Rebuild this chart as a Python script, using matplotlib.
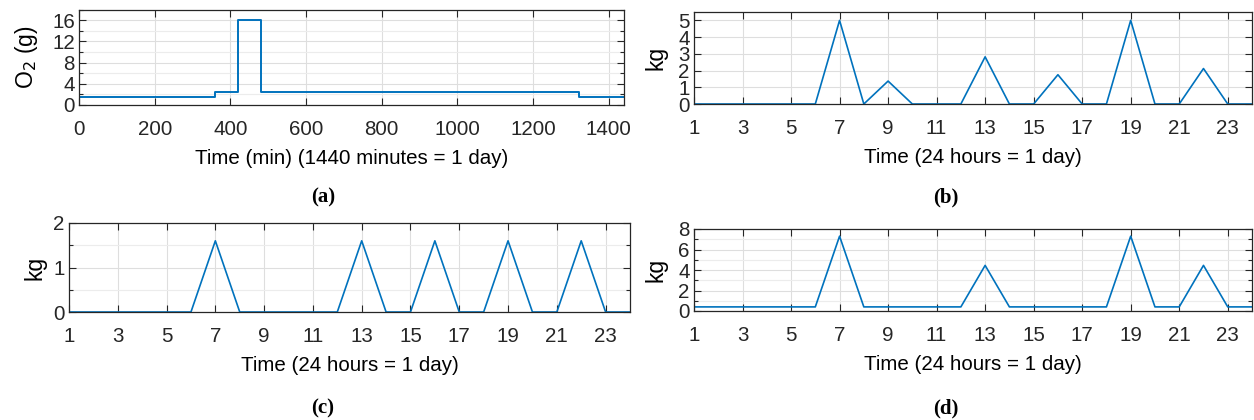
import matplotlib
matplotlib.use('Agg')
import matplotlib.pyplot as plt
from matplotlib.ticker import MultipleLocator
import numpy as np

plt.rcParams['font.family'] = ['Liberation Sans', 'DejaVu Sans']

# (a) oxygen, step profile over one day (minutes)
o2_time = [0, 360, 420, 480, 1320, 1440]
o2_value = [1.6, 2.45, 16, 2.45, 1.6, 1.6]

# hourly series for (b), (c), (d)
hours = list(range(1, 25))
kg_b = [0, 0, 0, 0, 0, 0, 5.0, 0, 1.37, 0, 0, 0, 2.82, 0, 0, 1.75,
        0, 0, 5.0, 0, 0, 2.12, 0, 0]
kg_c = [0, 0, 0, 0, 0, 0, 1.6, 0, 0, 0, 0, 0, 1.6, 0, 0, 1.6,
        0, 0, 1.6, 0, 0, 1.6, 0, 0]
kg_d = [0.4, 0.4, 0.4, 0.4, 0.4, 0.4, 7.3, 0.4, 0.4, 0.4, 0.4, 0.4, 4.45, 0.4, 0.4, 0.4,
        0.4, 0.4, 7.3, 0.4, 0.4, 4.45, 0.4, 0.4]

hour_ticks = list(range(1, 24, 2))

BLUE = '#0072BD'
W, H = 1254, 420
FS = 14.8
YFS = 16.5


def px_axes(fig, left, right, top, bottom):
    return fig.add_axes([left / W, (H - bottom) / H, (right - left) / W, (bottom - top) / H])


def style(ax):
    for s in ax.spines.values():
        s.set_color('#262626')
        s.set_linewidth(0.9)
    ax.tick_params(which='both', direction='in', top=True, right=True,
                   colors='#262626', labelsize=FS, width=0.8)
    ax.tick_params(which='major', length=5)
    ax.tick_params(axis='x', which='major', pad=11)
    ax.tick_params(axis='y', which='major', pad=3)
    ax.tick_params(which='minor', length=3)
    ax.grid(True, which='major', color='#dedede', linewidth=0.8)
    ax.grid(True, which='minor', axis='y', color='#ececec', linewidth=0.8)
    ax.set_axisbelow(True)


fig = plt.figure(figsize=(12.54, 4.2), dpi=100)

# (a)
ax = px_axes(fig, 79, 624, 9.5, 105)
ax.step(o2_time, o2_value, where='post', color=BLUE, lw=1.4)
ax.set_xlim(0, 1440)
ax.set_ylim(0, 18)
ax.set_xticks(np.arange(0, 1401, 200))
ax.set_yticks([0, 4, 8, 12, 16])
ax.yaxis.set_minor_locator(MultipleLocator(2))
style(ax)
ax.set_xlabel('Time (min) (1440 minutes = 1 day)', fontsize=FS, labelpad=7)
ax.set_ylabel('O$_2$ (g)', fontsize=YFS, labelpad=9)

# (b)
ax = px_axes(fig, 694, 1252, 12, 104)
ax.plot(hours, kg_b, color=BLUE, lw=1.2)
ax.set_xlim(1, 24)
ax.set_ylim(0, 5.5)
ax.set_xticks(hour_ticks)
ax.set_yticks([0, 1, 2, 3, 4, 5])
style(ax)
ax.set_xlabel('Time (24 hours = 1 day)', fontsize=FS, labelpad=7)
ax.set_ylabel('kg', fontsize=YFS, labelpad=8)

# (c)
ax = px_axes(fig, 69, 630, 223, 312)
ax.plot(hours, kg_c, color=BLUE, lw=1.2)
ax.set_xlim(1, 24)
ax.set_ylim(0, 2)
ax.set_xticks(hour_ticks)
ax.set_yticks([0, 1, 2])
ax.yaxis.set_minor_locator(MultipleLocator(0.5))
style(ax)
ax.set_xlabel('Time (24 hours = 1 day)', fontsize=FS, labelpad=7)
ax.set_ylabel('kg', fontsize=YFS, labelpad=5)

# (d)
ax = px_axes(fig, 694, 1252, 229, 311)
ax.plot(hours, kg_d, color=BLUE, lw=1.2)
ax.set_xlim(1, 24)
ax.set_ylim(0, 8)
ax.set_xticks(hour_ticks)
ax.set_yticks([0, 2, 4, 6, 8])
ax.yaxis.set_minor_locator(MultipleLocator(1))
style(ax)
ax.set_xlabel('Time (24 hours = 1 day)', fontsize=FS, labelpad=7)
ax.set_ylabel('kg', fontsize=YFS, labelpad=8)

for lab, x, y in [('(a)', 323, 197), ('(b)', 946, 197), ('(c)', 323, 408), ('(d)', 946, 408)]:
    fig.text(x / W, 1 - y / H, lab, ha='center', va='center', fontsize=15,
             fontweight='bold', family='Liberation Serif')

fig.savefig('out.png', dpi=100)
